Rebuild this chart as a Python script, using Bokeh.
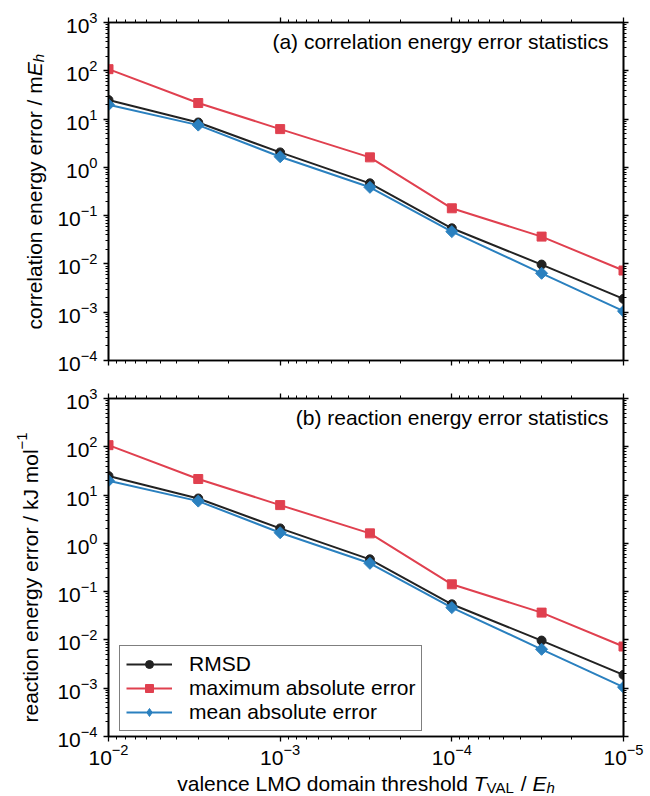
import math
from bokeh.plotting import figure
from bokeh.models import (Range1d, LogAxis, Legend, LegendItem, Label,
                          FixedTicker, LogTickFormatter, CustomJSTickFormatter)
from bokeh.core.properties import value
from bokeh.layouts import column, row
from bokeh.embed import file_html
from bokeh.resources import INLINE

# ---------------- data ----------------
thresholds = [1e-2, 3e-3, 1e-3, 3e-4, 1e-4, 3e-5, 1e-5]

corr_rmsd = [24.8, 8.5, 2.04, 0.467, 0.0547, 0.0097, 0.00189]
corr_max = [108.0, 21.5, 6.2, 1.61, 0.142, 0.0368, 0.0073]
corr_mae = [19.8, 7.5, 1.66, 0.386, 0.0467, 0.0064, 0.00105]

react_rmsd = [24.8, 8.5, 2.04, 0.467, 0.0547, 0.0097, 0.00189]
react_max = [108.0, 21.5, 6.2, 1.61, 0.142, 0.0368, 0.0073]
react_mae = [19.8, 7.5, 1.66, 0.386, 0.0467, 0.0064, 0.00105]

series_names = ["RMSD", "maximum absolute error", "mean absolute error"]
x_major = [1e-2, 1e-3, 1e-4, 1e-5]
y_major = [1e-4, 1e-3, 1e-2, 1e-1, 1e0, 1e1, 1e2, 1e3]
title_a = "(a) correlation energy error statistics"
title_b = "(b) reaction energy error statistics"

# ---------------- style / layout ----------------
FONT = "Liberation Sans"
FS = 21
SUB = 15
C_BLACK = "#222222"
C_RED = "#e0404f"
C_BLUE = "#2a80bf"
FW, FH = 515, 338
LEFT_W = 50            # strip with the rotated y labels
B_LEFT, B_RIGHT = 58, 27
TOP_A, BOT_A = 22, 19  # borders of panel (a)
TOP_B, BOT_B = 19, 31  # borders of panel (b)
TOTAL_H = 796
XL_H = TOTAL_H - (TOP_A + FH + BOT_A) - (TOP_B + FH + BOT_B)

# Arial / Liberation Sans advance widths (per 1000 em)
AW = {' ': 278, '(': 333, ')': 333, '/': 278, '\u2212': 584, '1': 556,
      'a': 556, 'b': 556, 'c': 500, 'd': 556, 'e': 556, 'f': 278, 'g': 556,
      'h': 556, 'i': 222, 'j': 222, 'k': 500, 'l': 222, 'm': 833, 'n': 556,
      'o': 556, 'p': 556, 'q': 556, 'r': 333, 's': 500, 't': 278, 'u': 556,
      'v': 500, 'w': 722, 'x': 500, 'y': 500, 'z': 500,
      'A': 667, 'E': 667, 'J': 500, 'L': 556, 'M': 833, 'O': 778, 'T': 611,
      'V': 667}


def tw(s, size):
    return sum(AW.get(ch, 556) for ch in s) * size / 1000.0


x_minor = [k * 10.0 ** e for e in range(-5, -2) for k in range(2, 10)]
y_minor = [k * 10.0 ** e for e in range(-4, 3) for k in range(2, 10)]

blank_fmt = CustomJSTickFormatter(code="return ' ';")


def style_axis(ax, ticks, minor, show_labels, standoff=6):
    ax.ticker = FixedTicker(ticks=ticks, minor_ticks=minor)
    ax.axis_line_color = "black"
    ax.axis_line_width = 1.6
    ax.major_tick_line_color = "black"
    ax.major_tick_line_width = 1.3
    ax.minor_tick_line_color = "black"
    ax.minor_tick_line_width = 1.0
    ax.major_tick_out = 5
    ax.major_tick_in = 0
    ax.minor_tick_out = 3
    ax.minor_tick_in = 0
    ax.major_label_text_font = FONT
    ax.major_label_text_color = "black"
    if show_labels:
        ax.formatter = LogTickFormatter()
        ax.major_label_text_font_size = f"{FS}px"
        ax.major_label_standoff = standoff
    else:
        ax.formatter = blank_fmt
        ax.major_label_text_font_size = "2px"
        ax.major_label_standoff = 0


def strip(x_range, y_range, **kw):
    f = figure(x_range=x_range, y_range=y_range,
               output_backend="svg", toolbar_location=None,
               outline_line_color=None, background_fill_color="white",
               border_fill_color="white", **kw)
    f.axis.visible = False
    f.grid.visible = False
    return f


def put_text(f, x, y, s, style, size, angle=0.0):
    f.text(x=x, y=y, text=s, angle=angle,
           text_font=value(FONT), text_font_size=value(f"{size}px"),
           text_font_style=style, text_color="black",
           text_align="left", text_baseline="alphabetic")


def pieces_vertical(f, pieces, x, y0):
    y = y0
    for text, style, size, dx in pieces:
        lead = len(text) - len(text.lstrip(' '))
        s = text.strip(' ')
        if s:
            put_text(f, [x + dx], [y + tw(' ' * lead, size)], [s], style, size,
                     angle=math.pi / 2)
        y += tw(text, size)


def pieces_horizontal(f, pieces, x0, y):
    x = x0
    for text, style, size, dy in pieces:
        lead = len(text) - len(text.lstrip(' '))
        s = text.strip(' ')
        if s:
            put_text(f, [x + tw(' ' * lead, size)], [y + dy], [s], style, size)
        x += tw(text, size)


X_RANGE = Range1d(1e-2, 1e-5)


def make_panel(rmsd, mx, mae, title, border_top, border_bottom, xlabels, legend):
    p = figure(x_axis_type="log", y_axis_type="log",
               x_range=X_RANGE, y_range=Range1d(1e-4, 1e3),
               frame_width=FW, frame_height=FH,
               min_border_left=B_LEFT, min_border_right=B_RIGHT,
               min_border_top=border_top, min_border_bottom=border_bottom,
               output_backend="svg", toolbar_location=None,
               background_fill_color="white", border_fill_color="white",
               outline_line_color="black", outline_line_width=1.6)
    p.grid.visible = False
    p.add_layout(LogAxis(), "above")
    p.add_layout(LogAxis(), "right")
    style_axis(p.below[0], x_major, x_minor, xlabels, standoff=2)
    style_axis(p.above[0], x_major, x_minor, False)
    style_axis(p.left[0], y_major, y_minor, True)
    style_axis(p.right[0], y_major, y_minor, False)

    l1 = p.line(thresholds, rmsd, line_color=C_BLACK, line_width=2)
    m1 = p.scatter(thresholds, rmsd, marker="circle", size=9,
                   fill_color=C_BLACK, line_color=C_BLACK)
    l2 = p.line(thresholds, mx, line_color=C_RED, line_width=2)
    m2 = p.scatter(thresholds, mx, marker="square", size=9,
                   fill_color=C_RED, line_color=C_RED)
    l3 = p.line(thresholds, mae, line_color=C_BLUE, line_width=2)
    p.scatter(thresholds, mae, marker="square", size=8.5, angle=math.pi / 4,
              fill_color=C_BLUE, line_color=C_BLUE)

    p.add_layout(Label(x=FW - 15, y=FH - 19, x_units="screen", y_units="screen",
                       text=title, text_font=FONT, text_font_size=f"{FS}px",
                       text_color="black", text_align="right",
                       text_baseline="alphabetic"))

    if legend:
        m3_leg = p.scatter(thresholds, mae, marker="diamond", size=17,
                           fill_color=C_BLUE, line_color=C_BLUE, visible=False)
        lg = Legend(items=[LegendItem(label=series_names[0], renderers=[l1, m1]),
                           LegendItem(label=series_names[1], renderers=[l2, m2]),
                           LegendItem(label=series_names[2], renderers=[l3, m3_leg])],
                    location=(11, 5))
        lg.label_text_font = FONT
        lg.label_text_font_size = f"{FS}px"
        lg.label_text_color = "black"
        lg.border_line_color = "black"
        lg.border_line_width = 1.2
        lg.background_fill_color = "white"
        lg.background_fill_alpha = 1.0
        lg.inactive_fill_alpha = 0.0
        lg.padding = 6
        lg.spacing = 0
        lg.margin = 0
        lg.glyph_width = 46
        lg.glyph_height = 20
        lg.label_height = 20
        lg.label_standoff = 17
        p.add_layout(lg)
    return p


top = make_panel(corr_rmsd, corr_max, corr_mae, title_a, TOP_A, BOT_A, False, False)
bot = make_panel(react_rmsd, react_max, react_mae, title_b, TOP_B, BOT_B, True, True)

# ---- rotated y labels: strips whose frames line up with the panel frames ----
left_a = strip(Range1d(0, LEFT_W), Range1d(0, FH),
               frame_width=LEFT_W, frame_height=FH, min_border_left=0,
               min_border_right=0, min_border_top=TOP_A, min_border_bottom=BOT_A)
left_b = strip(Range1d(0, LEFT_W), Range1d(0, FH),
               frame_width=LEFT_W, frame_height=FH, min_border_left=0,
               min_border_right=0, min_border_top=TOP_B, min_border_bottom=BOT_B)
ylab_a = [("correlation energy error / m", "normal", FS, 0),
          ("E", "italic", FS, 0),
          ("h", "italic", SUB, 4.5)]
ylab_b = [("reaction energy error / kJ mol", "normal", FS, 0),
          ("\u22121", "normal", SUB, -8)]
pieces_vertical(left_a, ylab_a, 33.5, 31)
pieces_vertical(left_b, ylab_b, 29.5, 14)

# ---- x axis label strip below panel (b), frame aligned with the panel frame ----
blank_bl = strip(Range1d(0, LEFT_W), Range1d(0, XL_H),
                 frame_width=LEFT_W, frame_height=XL_H, min_border_left=0,
                 min_border_right=0, min_border_top=0, min_border_bottom=0)
xl = strip(Range1d(0, FW), Range1d(0, XL_H),
           frame_width=FW, frame_height=XL_H, min_border_left=B_LEFT,
           min_border_right=B_RIGHT, min_border_top=0, min_border_bottom=0)
xlab = [("valence LMO domain threshold ", "normal", FS, 0),
        ("T", "italic", FS, 0),
        ("VAL", "normal", SUB, -4.5),
        (" / ", "normal", FS, 0),
        ("E", "italic", FS, 0),
        ("h", "italic", SUB, -4)]
W = sum(tw(t, s) for t, _, s, _ in xlab)
pieces_horizontal(xl, xlab, FW / 2 - W / 2, XL_H - 15.5)

layout = column(row(left_a, top, spacing=0),
                row(left_b, bot, spacing=0),
                row(blank_bl, xl, spacing=0), spacing=0)
open("out.html", "w").write(file_html(layout, INLINE))
